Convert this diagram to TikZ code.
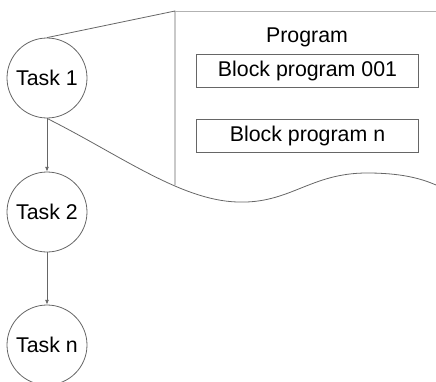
\documentclass[tikz,border=0pt]{standalone}
\usepackage{fontspec}
\setmainfont{Liberation Sans}
\usetikzlibrary{arrows.meta}

\begin{document}
\begin{tikzpicture}[x=0.75pt,y=-0.75pt,
  task/.style={circle,draw=black!60,line width=0.6pt,minimum size=60pt,
            inner sep=0pt,font=\fontsize{16}{19}\selectfont},
  blk/.style={draw=black!60,line width=0.6pt,minimum width=167pt,
            minimum height=24.75pt,inner sep=0pt,font=\fontsize{16}{19}\selectfont},
  ln/.style={draw=black!60,line width=0.6pt},
  arr/.style={ln,-{Latex[length=3.5pt,width=3pt]}}]
\useasboundingbox (0,0) rectangle (436,382);
\node[task] (t1) at (47,78) {Task 1};
\node[task] (t2) at (47,212) {Task 2};
\node[task] (tn) at (47,345) {Task n};
\node[font=\fontsize{16}{19}\selectfont] (prog) at (307,37) {Program};
\node[blk] (b1) at (307.5,70.5) {Block program 001};
\node[blk] (bn) at (307.5,135.5) {Block program n};
\coordinate (top) at (175,11);
\coordinate (foot) at (175,185);
\coordinate (topend) at (436,11);
\coordinate (low) at (237,202);
\coordinate (peak) at (367,173);
\coordinate (wend) at (436,185);
\draw[arr] (t1) -- (t2);
\draw[arr] (t2) -- (tn);
% zoom-out of task 1
\draw[ln] (t1.north) -- (top) -- (foot);
\draw[ln,draw=black!30] (top) -- (topend);
\draw[ln] (t1.south) .. controls (120,155) and (180,200) .. (low)
  .. controls (290,204) and (310,173) .. (peak)
  .. controls (400,173) and (420,178) .. (wend);
\end{tikzpicture}
\end{document}
